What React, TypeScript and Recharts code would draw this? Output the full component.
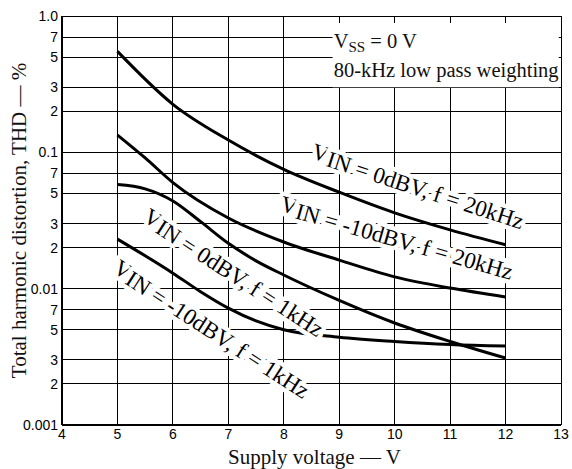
import React from "react";
import {
  LineChart,
  Line,
  XAxis,
  YAxis,
  CartesianGrid,
  ReferenceArea,
  ReferenceDot,
} from "recharts";

const serif = "'Liberation Serif', 'Times New Roman', serif";
const sans = "'Liberation Sans', Arial, sans-serif";

const xTicks = [4, 5, 6, 7, 8, 9, 10, 11, 12, 13];
const yTicks = [
  0.001, 0.002, 0.003, 0.005, 0.007, 0.01, 0.02, 0.03, 0.05, 0.07, 0.1, 0.2,
  0.3, 0.5, 0.7, 1,
];
const yTickLabels = [
  "0.001", "2", "3", "5", "7", "0.01", "2", "3", "5", "7", "0.1", "2", "3",
  "5", "7", "1.0",
];

// VIN = 0dBV, f = 20kHz
const vin0f20k = [
  { x: 5, y: 0.55 },
  { x: 6, y: 0.225 },
  { x: 7, y: 0.123 },
  { x: 8, y: 0.075 },
  { x: 9, y: 0.051 },
  { x: 10, y: 0.036 },
  { x: 11, y: 0.027 },
  { x: 12, y: 0.021 },
];

// VIN = -10dBV, f = 20kHz
const vin10f20k = [
  { x: 5, y: 0.134 },
  { x: 5.5, y: 0.091 },
  { x: 6, y: 0.06 },
  { x: 7, y: 0.033 },
  { x: 8, y: 0.022 },
  { x: 9, y: 0.0162 },
  { x: 10, y: 0.0122 },
  { x: 11, y: 0.0101 },
  { x: 12, y: 0.0087 },
];

// VIN = 0dBV, f = 1kHz
const vin0f1k = [
  { x: 5, y: 0.058 },
  { x: 5.5, y: 0.054 },
  { x: 6, y: 0.044 },
  { x: 6.5, y: 0.031 },
  { x: 7, y: 0.0215 },
  { x: 7.5, y: 0.016 },
  { x: 8, y: 0.0126 },
  { x: 9, y: 0.0082 },
  { x: 10, y: 0.0056 },
  { x: 11, y: 0.0041 },
  { x: 12, y: 0.0031 },
];

// VIN = -10dBV, f = 1kHz
const vin10f1k = [
  { x: 5, y: 0.0231 },
  { x: 6, y: 0.013 },
  { x: 6.5, y: 0.0095 },
  { x: 7, y: 0.0072 },
  { x: 7.5, y: 0.0058 },
  { x: 8, y: 0.005 },
  { x: 9, y: 0.0044 },
  { x: 10, y: 0.0041 },
  { x: 11, y: 0.0039 },
  { x: 12, y: 0.0038 },
];

// label centres (data coords) and text angle
const curveLabels = [
  { x: 10.41, y: 0.0549, angle: 18, rest: "IN = 0dBV, f = 20kHz" },
  { x: 10.03, y: 0.023, angle: 16, rest: "IN = -10dBV, f = 20kHz" },
  { x: 7.08, y: 0.01284, angle: 33, rest: "IN = 0dBV, f = 1kHz" },
  { x: 6.68, y: 0.00495, angle: 33, rest: "IN = -10dBV, f = 1kHz" },
];

const series = [vin0f20k, vin10f20k, vin0f1k, vin10f1k];

function CurveLabel(props: any) {
  const { cx, cy, angle, rest } = props;
  return (
    <text
      x={cx}
      y={cy + 7.6}
      transform={`rotate(${angle} ${cx} ${cy})`}
      textAnchor="middle"
      fontFamily={serif}
      fontSize={23}
      fill="#000"
      stroke="#fff"
      strokeWidth={9}
      strokeLinejoin="round"
      paintOrder="stroke"
    >
      <tspan dy={-3}>V</tspan>
      <tspan dy={3}>{rest}</tspan>
    </text>
  );
}

function NoteText(props: any) {
  const { cx, cy, children } = props;
  return (
    <text x={cx} y={cy} fontFamily={serif} fontSize={20.5} fill="#111">
      {children}
    </text>
  );
}

export default function App() {
  return (
    <div style={{ position: "absolute", left: 0, top: 0, background: "#fff" }}>
      <style>{`.recharts-cartesian-grid line { shape-rendering: crispEdges; }`}</style>
      <LineChart
        width={572}
        height={469}
        margin={{ top: 16, right: 11, bottom: 0, left: 0 }}
      >
        <CartesianGrid stroke="#000" strokeWidth={1} />
        <XAxis
          dataKey="x"
          type="number"
          domain={[4, 13]}
          ticks={xTicks}
          height={44}
          tickSize={0}
          tickMargin={4}
          axisLine={{ stroke: "#000", strokeWidth: 2 }}
          tick={{ fontFamily: sans, fontSize: 14, fill: "#000" }}
          label={{
            content: ({ viewBox }: any) => (
              <text
                x={viewBox.x + viewBox.width / 2 + 3}
                y={viewBox.y + 39}
                textAnchor="middle"
                fontFamily={serif}
                fontSize={21}
                fill="#111"
              >
                Supply voltage — V
              </text>
            ),
          }}
        />
        <YAxis
          type="number"
          scale="log"
          domain={[0.001, 1]}
          allowDataOverflow
          ticks={yTicks}
          width={62}
          tickSize={0}
          tickMargin={4}
          interval={0}
          axisLine={{ stroke: "#000", strokeWidth: 2 }}
          tick={{ fontFamily: sans, fontSize: 14, fill: "#000" }}
          tickFormatter={(_v: number, i: number) => yTickLabels[i]}
          label={{
            content: ({ viewBox }: any) => {
              const cx = 26;
              const cy = viewBox.y + viewBox.height / 2;
              return (
                <text
                  x={cx}
                  y={cy}
                  transform={`rotate(-90 ${cx} ${cy})`}
                  textAnchor="middle"
                  fontFamily={serif}
                  fontSize={21}
                  fill="#111"
                >
                  Total harmonic distortion, THD — %
                </text>
              );
            },
          }}
        />
        <ReferenceArea
          x1={8.88}
          x2={12.96}
          y1={0.3}
          y2={0.89}
          fill="#fff"
          fillOpacity={1}
          stroke="none"
        />
        <ReferenceDot
          x={8.9}
          y={0.582}
          r={0}
          shape={(p: any) => (
            <NoteText cx={p.cx} cy={p.cy}>
              V<tspan fontSize={15} dy={4}>SS</tspan>
              <tspan dy={-4}> = 0 V</tspan>
            </NoteText>
          )}
        />
        <ReferenceDot
          x={8.9}
          y={0.357}
          r={0}
          shape={(p: any) => (
            <NoteText cx={p.cx} cy={p.cy}>
              80-kHz low pass weighting
            </NoteText>
          )}
        />
        {curveLabels.map((l, i) => (
          <ReferenceDot
            key={"lbl" + i}
            x={l.x}
            y={l.y}
            r={0}
            shape={(p: any) => (
              <CurveLabel cx={p.cx} cy={p.cy} angle={l.angle} rest={l.rest} />
            )}
          />
        ))}
        {series.map((d, i) => (
          <Line
            key={"s" + i}
            data={d}
            dataKey="y"
            type="monotone"
            stroke="#000"
            strokeWidth={3}
            dot={false}
            isAnimationActive={false}
          />
        ))}
      </LineChart>
    </div>
  );
}
